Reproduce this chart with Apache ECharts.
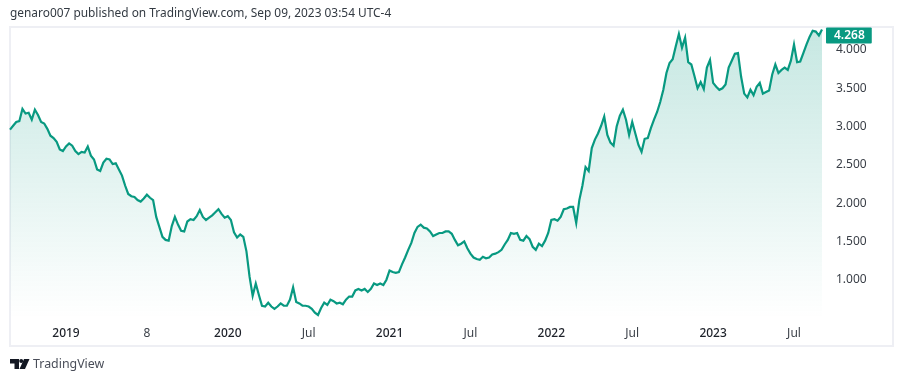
<!DOCTYPE html>
<html><head><meta charset="utf-8">
<style>html,body{margin:0;padding:0;background:#fff}#c{width:904px;height:382px}</style>
<script src="https://cdn.jsdelivr.net/npm/echarts@6/dist/echarts.min.js"></script>
</head><body><div id="c"></div>
<script>
const titleText = 'genaro007 published on TradingView.com, Sep 09, 2023 03:54 UTC-4';
const brandText = 'TradingView';
const startDate = '2018-08-27';
const values = [
2.96,3.01,3.06,3.07,3.23,3.17,3.18,3.09,3.22,3.15,3.06,3.04,2.97,2.88,2.85,2.80,2.70,2.68,2.74,2.78,
2.75,2.68,2.64,2.67,2.66,2.74,2.62,2.57,2.44,2.42,2.53,2.58,2.57,2.51,2.52,2.44,2.36,2.23,2.12,2.09,
2.08,2.04,2.02,2.06,2.11,2.07,2.04,1.82,1.69,1.56,1.52,1.51,1.70,1.82,1.72,1.64,1.63,1.76,1.79,1.78,
1.83,1.91,1.82,1.78,1.81,1.84,1.88,1.92,1.86,1.81,1.83,1.78,1.62,1.55,1.59,1.56,1.37,1.04,0.79,0.95,
0.80,0.66,0.65,0.70,0.65,0.62,0.65,0.69,0.66,0.66,0.74,0.90,0.71,0.69,0.66,0.66,0.65,0.62,0.57,0.54,
0.63,0.70,0.67,0.74,0.72,0.69,0.70,0.68,0.74,0.78,0.78,0.86,0.88,0.86,0.88,0.84,0.88,0.95,0.93,0.95,
0.93,1.00,1.12,1.10,1.09,1.10,1.20,1.29,1.39,1.48,1.61,1.69,1.72,1.68,1.67,1.63,1.57,1.59,1.61,1.61,
1.63,1.63,1.60,1.52,1.45,1.47,1.50,1.41,1.34,1.29,1.27,1.26,1.30,1.28,1.29,1.33,1.34,1.36,1.39,1.46,
1.52,1.61,1.60,1.61,1.52,1.51,1.57,1.53,1.43,1.39,1.47,1.44,1.51,1.61,1.78,1.79,1.77,1.82,1.92,1.93,
1.95,1.95,1.74,2.04,2.23,2.47,2.42,2.72,2.83,2.91,3.01,3.13,2.89,2.79,2.75,3.00,3.14,3.22,3.09,2.89,
3.06,2.91,2.76,2.67,2.84,2.85,2.98,3.09,3.19,3.32,3.48,3.70,3.83,3.88,4.05,4.21,4.03,4.16,3.84,3.81,
3.66,3.50,3.58,3.49,3.77,3.87,3.57,3.52,3.48,3.50,3.55,3.77,3.86,3.95,3.96,3.65,3.43,3.38,3.48,3.41,
3.52,3.57,3.43,3.45,3.47,3.68,3.81,3.70,3.74,3.77,3.74,3.86,4.07,3.84,3.85,3.96,4.07,4.17,4.25,4.24,
4.19,4.268];
const tickIndex = [18,44,70,96,122,148,174,200,226,252];
const tickText  = ['2019','8','2020','Jul','2021','Jul','2022','Jul','2023','Jul'];

const FONT = '"Noto Sans", sans-serif';
const categories = values.map((_, i) => {
  const d = new Date(startDate + 'T00:00:00Z');
  d.setUTCDate(d.getUTCDate() + 7 * i);
  return d.toISOString().slice(0, 10);
});
const tickMap = {};
tickIndex.forEach((idx, k) => { tickMap[idx] = tickText[k]; });

const chart = echarts.init(document.getElementById('c'), null, {renderer:'canvas'});
chart.setOption({
  animation:false,
  title:{text:titleText,left:10,top:8,padding:0,textStyle:{fontFamily:FONT,fontSize:11.9,fontWeight:'normal',color:'#333a42'}},
  grid:{left:10,top:27,width:812,height:291,containLabel:false},
  xAxis:{
    type:'category',data:categories,boundaryGap:false,
    axisLine:{show:false},axisTick:{show:false},splitLine:{show:false},
    axisLabel:{
      interval:(i)=>tickMap[i]!==undefined,
      formatter:(v,i)=>{const t=tickMap[i];return /^\d{4}$/.test(t)?'{y|'+t+'}':'{m|'+t+'}';},
      margin:10,
      rich:{y:{fontFamily:FONT,fontSize:12,fontWeight:500,color:'#1d2129'},
            m:{fontFamily:FONT,fontSize:12,color:'#3a3f47'}}
    }
  },
  yAxis:{
    type:'value',position:'right',min:0.5,max:4.3,interval:0.5,
    axisLine:{show:false},axisTick:{show:false},splitLine:{show:false},
    axisLabel:{showMinLabel:false,showMaxLabel:false,margin:14,align:'left',padding:[3,0,0,0],
      fontFamily:FONT,fontSize:12,color:'#3a3f47',
      formatter:v=>Math.abs(v-4.3)<1e-6?'':v.toFixed(3)}
  },
  series:[{
    type:'line',data:values,symbol:'none',smooth:false,
    lineStyle:{color:'#089981',width:2.2,join:'miter'},
    areaStyle:{origin:'start',color:new echarts.graphic.LinearGradient(0,0,0,1,[
      {offset:0,color:'rgba(8,153,129,0.33)'},
      {offset:1,color:'rgba(8,153,129,0.0)'}])},
    endLabel:{show:true,distance:4,offset:[0,6],
      formatter:p=>Number(p.value).toFixed(3),
      fontFamily:FONT,fontSize:12,fontWeight:600,color:'#fff',
      backgroundColor:'#089981',padding:[1,7,1,8],borderRadius:1,lineHeight:14}
  }],
  graphic:[
    {type:'rect',silent:true,z:-1,shape:{x:10,y:27,width:883,height:319},
      style:{fill:'none',stroke:'#eeeff4',lineWidth:2}},
    {type:'polygon',silent:true,shape:{points:[[10,359],[19,359],[19,369],[14.5,369],[14.5,363.5],[10,363.5]]},style:{fill:'#131722'}},
    {type:'circle',silent:true,shape:{cx:21.2,cy:361,r:2},style:{fill:'#131722'}},
    {type:'polygon',silent:true,shape:{points:[[24,359],[29.5,359],[25,369],[19.5,369]]},style:{fill:'#131722'}},
    {type:'text',silent:true,left:33,top:358,style:{text:brandText,fontFamily:FONT,fontSize:12.4,fill:'#4a4e59'}}
  ]
});
</script></body></html>
